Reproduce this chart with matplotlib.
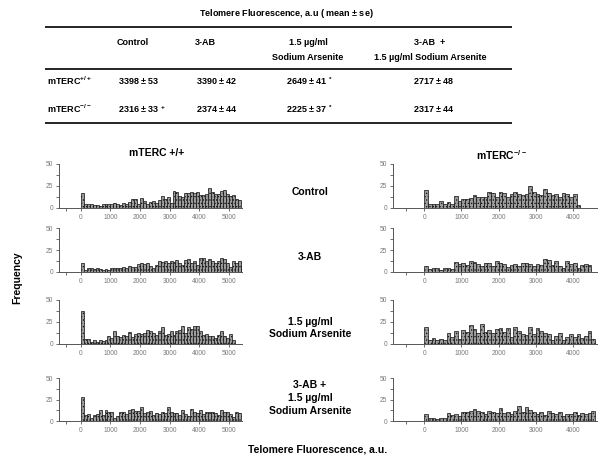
import matplotlib.pyplot as plt
import numpy as np

plt.rcParams['font.family'] = ['Liberation Sans', 'DejaVu Sans']
plt.rcParams['mathtext.fontset'] = 'custom'
plt.rcParams['mathtext.rm'] = 'Liberation Sans'
plt.rcParams['mathtext.bf'] = 'Liberation Sans:bold'
plt.rcParams['hatch.linewidth'] = 0.5

# table values (mean +/- se)
col_heads = ['Control', '3-AB', '1.5 µg/ml\nSodium Arsenite', '3-AB  +\n1.5 µg/ml Sodium Arsenite']
wt_mean = [3398, 3390, 2649, 2717]
wt_se = [53, 42, 41, 48]
wt_mark = ['', '', '*', '']
ko_mean = [2316, 2374, 2225, 2317]
ko_se = [33, 44, 37, 44]
ko_mark = ['+', '', '*', '']

# histogram counts, bins of 100 a.u. starting at 0
bin_width = 100
wt_control = [17, 5, 4, 4, 3, 3, 2, 4, 4, 5, 5, 6, 5, 3, 6, 5, 7, 10, 10, 5,
              11, 8, 5, 7, 8, 6, 9, 14, 10, 12, 6, 19, 18, 14, 12, 17, 17, 18, 17, 18,
              15, 15, 16, 23, 18, 16, 16, 19, 20, 16, 14, 15, 10, 9]
wt_3ab = [10, 2, 4, 5, 3, 4, 3, 2, 3, 2, 4, 4, 5, 4, 6, 5, 7, 6, 6, 9,
          10, 9, 10, 7, 5, 8, 13, 11, 12, 10, 13, 11, 14, 10, 8, 14, 15, 10, 12, 8,
          16, 16, 12, 15, 13, 10, 12, 16, 15, 10, 6, 12, 10, 12, 8]
wt_arsenite = [37, 6, 6, 2, 4, 2, 4, 3, 5, 9, 7, 15, 9, 8, 10, 9, 14, 8, 11, 13,
               11, 12, 16, 15, 12, 10, 15, 19, 10, 11, 15, 10, 15, 16, 20, 13, 19, 17, 20, 20,
               15, 10, 11, 9, 9, 7, 10, 15, 9, 7, 11, 4]
wt_combo = [28, 7, 8, 4, 7, 8, 13, 7, 13, 11, 10, 4, 6, 11, 11, 8, 13, 14, 12, 12,
            16, 9, 11, 12, 7, 9, 8, 11, 9, 16, 10, 9, 9, 7, 13, 8, 6, 14, 11, 9,
            13, 8, 10, 11, 10, 9, 7, 13, 11, 10, 8, 5, 11, 9]
ko_control = [21, 4, 4, 5, 8, 5, 7, 4, 14, 8, 10, 10, 11, 15, 13, 13, 12, 18, 17, 12,
              18, 17, 13, 16, 18, 16, 15, 16, 25, 18, 16, 15, 22, 17, 15, 16, 13, 17, 16, 12,
              16, 3]
ko_3ab = [7, 3, 4, 5, 2, 5, 4, 3, 11, 9, 10, 8, 13, 11, 9, 7, 10, 10, 7, 12,
          10, 9, 6, 8, 9, 7, 10, 10, 9, 7, 9, 8, 15, 14, 8, 13, 7, 5, 12, 9,
          10, 4, 8, 9, 8]
ko_arsenite = [19, 4, 7, 4, 6, 5, 13, 8, 15, 6, 16, 14, 22, 17, 13, 23, 14, 16, 13, 17,
               18, 14, 18, 8, 19, 15, 11, 10, 19, 11, 18, 15, 13, 11, 5, 9, 12, 5, 8, 11,
               8, 11, 7, 9, 15, 6]
ko_combo = [8, 3, 4, 2, 4, 4, 9, 7, 8, 6, 10, 11, 12, 14, 12, 11, 8, 12, 10, 9,
            15, 9, 10, 8, 12, 18, 10, 16, 13, 10, 8, 10, 7, 12, 9, 8, 11, 6, 8, 8,
            10, 7, 9, 8, 9, 12]

row_labels = ['Control', '3-AB', '1.5 µg/ml\nSodium Arsenite', '3-AB +\n1.5 µg/ml\nSodium Arsenite']
wt_panels = [wt_control, wt_3ab, wt_arsenite, wt_combo]
ko_panels = [ko_control, ko_3ab, ko_arsenite, ko_combo]

W, H = 600, 465
fig = plt.figure(figsize=(6, 4.65), dpi=100)

# overlay in pixel coords for table and labels
ov = fig.add_axes([0, 0, 1, 1])
ov.set_xlim(0, W)
ov.set_ylim(H, 0)
ov.axis('off')

ov.text(286, 13, 'Telomere Fluorescence, a.u ( mean $\\mathbf{\\pm}$ se)', ha='center', va='center',
        fontsize=6.5, fontweight='bold')
for yy in [27.5, 69.5, 123.5]:
    ov.plot([45, 512], [yy, yy], color='black', lw=1.2, solid_capstyle='butt')

col_x = [117, 195, 308, 430]
col_ha = ['left', 'left', 'center', 'center']
for x, ha, head in zip(col_x, col_ha, col_heads):
    ov.text(x, 38, head, ha=ha, va='top', fontsize=6.5, fontweight='bold', linespacing=1.9)

def cell(mean, se, mark):
    s = '%d $\\mathbf{\\pm}$ %d' % (mean, se)
    if mark:
        s += ' $^{\\mathbf{%s}}$' % mark
    return s

ov.text(47, 81, 'mTERC$^{\\mathbf{+/+}}$', ha='left', va='center', fontsize=6.5, fontweight='bold')
ov.text(47, 109, 'mTERC$^{\\mathbf{-/-}}$', ha='left', va='center', fontsize=6.5, fontweight='bold')
val_x = [118, 196, 310, 434]
for i in range(4):
    ov.text(val_x[i], 81, cell(wt_mean[i], wt_se[i], wt_mark[i]), ha=col_ha[i], va='center',
            fontsize=6.5, fontweight='bold')
    ov.text(val_x[i], 109, cell(ko_mean[i], ko_se[i], ko_mark[i]), ha=col_ha[i], va='center',
            fontsize=6.5, fontweight='bold')

# histogram panels: (top px, bottom px) of the 0..50 range
rows_px = [(164, 208), (228, 272), (300, 344), (378, 421)]
label_y = [192, 257, 328, 398]

ov.text(157, 153, 'mTERC +/+', ha='center', va='center', fontsize=7.5, fontweight='bold')
ov.text(502, 155, 'mTERC$^{\\mathbf{-/-}}$', ha='center', va='center', fontsize=7.5, fontweight='bold')
ov.text(17, 278, 'Frequency', rotation=90, ha='center', va='center', fontsize=7.5, fontweight='bold')
ov.text(318, 449, 'Telomere Fluorescence, a.u.', ha='center', va='center', fontsize=7.5, fontweight='bold')
for lab, ly in zip(row_labels, label_y):
    ov.text(310, ly, lab, ha='center', va='center', fontsize=7.5, fontweight='bold', linespacing=1.35)


def draw_panel(rect, counts, xmin, xmax, xticks):
    ax = fig.add_axes(rect)
    edges = np.arange(len(counts)) * bin_width
    ax.bar(edges, counts, width=bin_width, align='edge', color='#9c9c9c',
           edgecolor='#111111', linewidth=0.5, hatch='.....')
    ax.set_xlim(xmin, xmax)
    ax.set_ylim(0, 50)
    ax.patch.set_alpha(0)
    for s in ['top', 'right']:
        ax.spines[s].set_visible(False)
    for s in ['left', 'bottom']:
        ax.spines[s].set_color('#555555')
        ax.spines[s].set_linewidth(0.7)
    ax.set_yticks([0, 25, 50])
    ax.set_yticks([12.5, 37.5], minor=True)
    ax.set_xticks([-500] + xticks)
    ax.set_xticklabels([''] + [str(t) for t in xticks])
    ax.tick_params(which='both', length=2, width=0.6, color='#555555',
                   labelsize=4.8, labelcolor='#7a7a7a', pad=2)
    return ax


for (top, bot), wt, ko in zip(rows_px, wt_panels, ko_panels):
    b = 1 - bot / H
    h = (bot - top) / H
    draw_panel([59 / W, b, 183 / W, h], wt, -740, 5450, [0, 1000, 2000, 3000, 4000, 5000])
    draw_panel([393 / W, b, 204 / W, h], ko, -840, 4650, [0, 1000, 2000, 3000, 4000])

fig.savefig('out.png', dpi=100)
